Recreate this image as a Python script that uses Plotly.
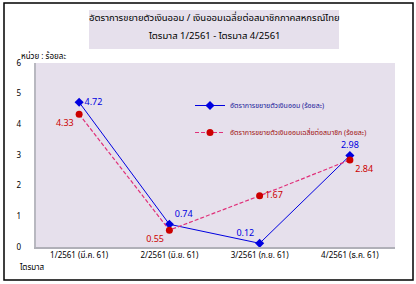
import plotly.graph_objects as go

categories = ["1/2561 (มี.ค. 61)", "2/2561 (มิ.ย. 61)", "3/2561 (ก.ย. 61)", "4/2561 (ธ.ค. 61)"]
savings_growth = [4.72, 0.74, 0.12, 2.98]
per_member_growth = [4.33, 0.55, 1.67, 2.84]
y_ticks = [0, 1, 2, 3, 4, 5, 6]

name1 = "อัตราการขยายตัวเงินออม (ร้อยละ)"
name2 = "อัตราการขยายตัวเงินออมเฉลี่ยต่อสมาชิก (ร้อยละ)"
title1 = "อัตราการขยายตัวเงินออม / เงินออมเฉลี่ยต่อสมาชิกภาคสหกรณ์ไทย"
title2 = "ไตรมาส 1/2561 - ไตรมาส 4/2561"

FONT = "Tahoma, Noto Sans, Noto Sans Thai, sans-serif"
BLUE = "#0000E0"
RED = "#CC0000"
PINK = "#E0307A"

fig = go.Figure()
fig.add_trace(go.Scatter(
    x=categories, y=savings_growth,
    name=f"<span style='color:#1a1a9a'>{name1}</span>",
    mode="lines+markers+text",
    legendgroup="a",
    line=dict(color=BLUE, width=1),
    marker=dict(symbol="diamond", size=7, color=BLUE),
    text=[f"{v:.2f}" for v in savings_growth],
    textposition=["middle right", "top right", "top left", "top center"],
    textfont=dict(color=BLUE, size=9, family=FONT),
))
fig.add_trace(go.Scatter(
    x=categories, y=per_member_growth,
    name=f"<span style='color:#a01010'>{name2}</span>",
    mode="lines+markers+text",
    legendgroup="b",
    line=dict(color=PINK, width=1.2, dash="4px,2px"),
    marker=dict(symbol="circle", size=7, color=RED),
    text=[f"{v:.2f}" for v in per_member_growth],
    textposition=["bottom left", "bottom left", "middle right", "bottom right"],
    textfont=dict(color=RED, size=9, family=FONT),
))

W, H = 416, 284
L, R, T, B = 34, 21, 63, 37
pw, ph = W - L - R, H - T - B

def px(x):
    return (x - L) / pw

def py(y):
    return (H - B - y) / ph

shapes = [
    dict(type="rect", xref="paper", yref="paper", x0=px(4), x1=px(413), y0=py(280), y1=py(3),
         line=dict(color="black", width=1.5), fillcolor="rgba(0,0,0,0)", layer="below"),
    dict(type="rect", xref="paper", yref="paper", x0=px(89), x1=px(339), y0=py(49), y1=py(10),
         line=dict(width=0), fillcolor="#E6E0EC", layer="below"),
    dict(type="rect", xref="paper", yref="paper", x0=px(34), x1=px(36), y0=0, y1=1,
         line=dict(width=0), fillcolor="#B8B8C0", layer="above"),
]

def ann(text, x, y, xanchor="center", size=8):
    return dict(text=text, xref="paper", yref="paper", x=px(x), y=py(y), showarrow=False,
                xanchor=xanchor, yanchor="middle",
                font=dict(size=size, family=FONT, color="black"))

annotations = [
    ann(title1, 214, 17, size=9.5),
    ann(title2, 214, 35, size=9.5),
    ann("หน่วย : ร้อยละ", 19, 56, xanchor="left"),
    ann("ไตรมาส", 17, 266, xanchor="left"),
]

fig.update_layout(
    width=W, height=H,
    margin=dict(l=L, r=R, t=T, b=B),
    paper_bgcolor="white", plot_bgcolor="#E6E0EC",
    font=dict(family=FONT, size=8, color="black"),
    showlegend=True,
    legend=dict(x=px(190), y=py(91), xanchor="left", yanchor="top",
                bgcolor="rgba(0,0,0,0)", font=dict(size=7, family=FONT, color="black"),
                tracegroupgap=8, itemwidth=30),
    shapes=shapes, annotations=annotations,
    xaxis=dict(showgrid=False, showline=True, linecolor="#B0B0B8", linewidth=1.5,
               ticks="", tickfont=dict(size=8, family=FONT), range=[-0.5, 3.5]),
    yaxis=dict(range=[0, 6], tickvals=y_ticks, showgrid=False, zeroline=False,
               showline=False, ticks="", ticklabelstandoff=12,
               tickfont=dict(size=8, family=FONT)),
)

fig.write_html("out.html", config={"displayModeBar": False},
               post_script="document.body.style.margin='0';document.body.style.padding='0';")
